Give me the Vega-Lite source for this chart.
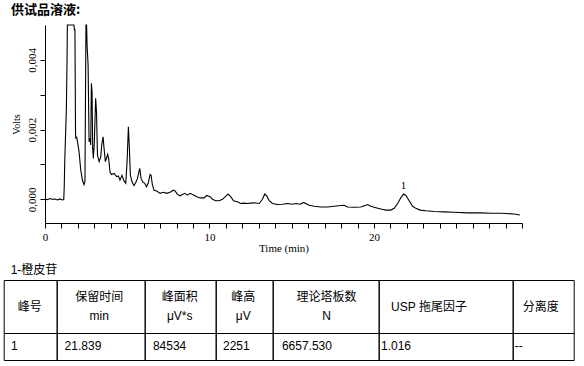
{
  "$schema": "https://vega.github.io/schema/vega-lite/v6.json",
  "background": "white",
  "padding": {"left": 3, "top": 3, "right": 5, "bottom": 3},
  "bounds": "flush",
  "spacing": 35,
  "config": {"view": {"stroke": null}},
  "datasets": {
    "trace": [
      {"t": 0.00, "v": 0.00001}, {"t": 0.15, "v": -0.00001}, {"t": 0.30, "v": 0.00002}, {"t": 0.45, "v": 0.00000},
      {"t": 0.60, "v": 0.00001}, {"t": 0.75, "v": -0.00002}, {"t": 0.90, "v": 0.00001}, {"t": 1.05, "v": -0.00002},
      {"t": 1.14, "v": -0.00001}, {"t": 1.17, "v": 0.00035}, {"t": 1.20, "v": 0.00109}, {"t": 1.26, "v": 0.00200},
      {"t": 1.30, "v": 0.00262}, {"t": 1.34, "v": 0.00400}, {"t": 1.36, "v": 0.00500}, {"t": 1.76, "v": 0.00500},
      {"t": 1.79, "v": 0.00486}, {"t": 1.82, "v": 0.00486}, {"t": 1.855, "v": 0.00196}, {"t": 1.87, "v": 0.00176},
      {"t": 1.93, "v": 0.00178}, {"t": 1.97, "v": 0.00166}, {"t": 2.07, "v": 0.00137}, {"t": 2.17, "v": 0.00085},
      {"t": 2.27, "v": 0.00056}, {"t": 2.37, "v": 0.00042}, {"t": 2.43, "v": 0.00051}, {"t": 2.49, "v": 0.00500},
      {"t": 2.53, "v": 0.00500}, {"t": 2.56, "v": 0.00440}, {"t": 2.62, "v": 0.00385}, {"t": 2.68, "v": 0.00165},
      {"t": 2.74, "v": 0.00175}, {"t": 2.78, "v": 0.00156}, {"t": 2.82, "v": 0.00333}, {"t": 2.86, "v": 0.00308},
      {"t": 2.90, "v": 0.00146}, {"t": 2.94, "v": 0.00117}, {"t": 3.00, "v": 0.00165}, {"t": 3.08, "v": 0.00290},
      {"t": 3.13, "v": 0.00251}, {"t": 3.19, "v": 0.00127}, {"t": 3.29, "v": 0.00108}, {"t": 3.39, "v": 0.00122},
      {"t": 3.45, "v": 0.00156}, {"t": 3.53, "v": 0.00179}, {"t": 3.59, "v": 0.00146}, {"t": 3.67, "v": 0.00108},
      {"t": 3.73, "v": 0.00117}, {"t": 3.81, "v": 0.00129}, {"t": 3.87, "v": 0.00117}, {"t": 3.95, "v": 0.00079},
      {"t": 4.04, "v": 0.00071}, {"t": 4.20, "v": 0.00074}, {"t": 4.36, "v": 0.00065}, {"t": 4.46, "v": 0.00067},
      {"t": 4.56, "v": 0.00055}, {"t": 4.68, "v": 0.00069}, {"t": 4.81, "v": 0.00052}, {"t": 4.91, "v": 0.00046},
      {"t": 4.99, "v": 0.00108}, {"t": 5.07, "v": 0.00208}, {"t": 5.13, "v": 0.00146}, {"t": 5.19, "v": 0.00069},
      {"t": 5.29, "v": 0.00050}, {"t": 5.41, "v": 0.00039}, {"t": 5.54, "v": 0.00050}, {"t": 5.62, "v": 0.00060},
      {"t": 5.76, "v": 0.00089}, {"t": 5.84, "v": 0.00060}, {"t": 5.94, "v": 0.00050}, {"t": 6.06, "v": 0.00046},
      {"t": 6.17, "v": 0.00036}, {"t": 6.27, "v": 0.00046}, {"t": 6.39, "v": 0.00071}, {"t": 6.45, "v": 0.00069},
      {"t": 6.53, "v": 0.00041}, {"t": 6.63, "v": 0.00026}, {"t": 6.79, "v": 0.00024}, {"t": 7.00, "v": 0.00017},
      {"t": 7.20, "v": 0.00020}, {"t": 7.40, "v": 0.00017}, {"t": 7.60, "v": 0.00020}, {"t": 7.81, "v": 0.00026},
      {"t": 7.91, "v": 0.00024}, {"t": 8.05, "v": 0.00014}, {"t": 8.21, "v": 0.00010}, {"t": 8.36, "v": 0.00014},
      {"t": 8.50, "v": 0.00017}, {"t": 8.66, "v": 0.00012}, {"t": 8.82, "v": 0.00017}, {"t": 9.03, "v": 0.00012},
      {"t": 9.23, "v": 0.00007}, {"t": 9.43, "v": 0.00004}, {"t": 9.67, "v": 0.00004}, {"t": 9.84, "v": 0.00011},
      {"t": 9.95, "v": 0.00009}, {"t": 10.08, "v": 0.00006}, {"t": 10.18, "v": 0.00000}, {"t": 10.38, "v": -0.00004},
      {"t": 10.58, "v": -0.00004}, {"t": 10.79, "v": 0.00000}, {"t": 10.95, "v": 0.00007}, {"t": 11.13, "v": 0.00015},
      {"t": 11.30, "v": 0.00007}, {"t": 11.46, "v": -0.00004}, {"t": 11.70, "v": -0.00007}, {"t": 11.90, "v": -0.00012},
      {"t": 12.10, "v": -0.00011}, {"t": 12.31, "v": -0.00012}, {"t": 12.51, "v": -0.00011}, {"t": 12.71, "v": -0.00010},
      {"t": 13.02, "v": -0.00012}, {"t": 13.22, "v": 0.00000}, {"t": 13.36, "v": 0.00015}, {"t": 13.49, "v": 0.00009},
      {"t": 13.63, "v": -0.00004}, {"t": 13.83, "v": -0.00012}, {"t": 14.14, "v": -0.00015}, {"t": 14.44, "v": -0.00014},
      {"t": 14.74, "v": -0.00012}, {"t": 15.05, "v": -0.00014}, {"t": 15.25, "v": -0.00012}, {"t": 15.51, "v": -0.00014},
      {"t": 15.72, "v": -0.00009}, {"t": 16.06, "v": -0.00017}, {"t": 16.36, "v": -0.00020}, {"t": 16.77, "v": -0.00022},
      {"t": 17.18, "v": -0.00022}, {"t": 17.58, "v": -0.00020}, {"t": 17.99, "v": -0.00018}, {"t": 18.19, "v": -0.00017},
      {"t": 18.39, "v": -0.00022}, {"t": 18.80, "v": -0.00023}, {"t": 19.20, "v": -0.00022}, {"t": 19.51, "v": -0.00017},
      {"t": 19.61, "v": -0.00015}, {"t": 19.81, "v": -0.00020}, {"t": 20.12, "v": -0.00024}, {"t": 20.42, "v": -0.00028},
      {"t": 20.72, "v": -0.00031}, {"t": 21.02, "v": -0.00031}, {"t": 21.23, "v": -0.00026}, {"t": 21.44, "v": -0.00012},
      {"t": 21.64, "v": 0.00005}, {"t": 21.80, "v": 0.00015}, {"t": 21.94, "v": 0.00011}, {"t": 22.14, "v": -0.00004},
      {"t": 22.35, "v": -0.00020}, {"t": 22.55, "v": -0.00026}, {"t": 22.81, "v": -0.00031}, {"t": 23.16, "v": -0.00033},
      {"t": 23.66, "v": -0.00035}, {"t": 24.27, "v": -0.00036}, {"t": 24.88, "v": -0.00037}, {"t": 25.69, "v": -0.00039},
      {"t": 26.50, "v": -0.00039}, {"t": 27.11, "v": -0.00040}, {"t": 27.72, "v": -0.00040}, {"t": 28.53, "v": -0.00042},
      {"t": 28.87, "v": -0.00045}
    ],
    "peaks": [{"t": 21.80, "v": 0.00015, "label": "1"}],
    "cols": [
      {"x0": 3.5, "x1": 56.5, "hx": 29, "h": "峰号", "vx": 10.4, "val": "1"},
      {"x0": 56.5, "x1": 144.5, "hx": 98.5, "h": "保留时间\nmin", "vx": 63.9, "val": "21.839"},
      {"x0": 144.5, "x1": 215.5, "hx": 179, "h": "峰面积\nμV*s", "vx": 152.2, "val": "84534"},
      {"x0": 215.5, "x1": 272.5, "hx": 242.5, "h": "峰高\nμV", "vx": 222.3, "val": "2251"},
      {"x0": 272.5, "x1": 378.5, "hx": 325.8, "h": "理论塔板数\nN", "vx": 281.2, "val": "6657.530"},
      {"x0": 378.5, "x1": 512.5, "hx": 428.3, "h": "USP 拖尾因子", "vx": 380.3, "val": "1.016"},
      {"x0": 512.5, "x1": 573.5, "hx": 540, "h": "分离度", "vx": 514, "val": "--"}
    ],
    "note": [{"text": "1-橙皮苷"}]
  },
  "vconcat": [
    {
      "width": 477,
      "height": 198,
      "title": {"text": "供试品溶液:", "anchor": "start", "frame": "group", "dx": -34, "offset": 6, "font": "Noto Sans CJK SC", "fontSize": 13, "fontWeight": "bold", "color": "black"},
      "resolve": {"axis": {"x": "independent"}},
      "layer": [
        {
          "data": {"name": "trace"},
          "mark": {"type": "line", "color": "black", "strokeWidth": 1.1},
          "encoding": {
            "x": {
              "field": "t", "type": "quantitative",
              "scale": {"domain": [0, 29], "nice": false, "zero": false},
              "axis": {
                "orient": "bottom",
                "values": [0, 10, 20],
                "format": "d",
                "title": "Time (min)", "titleFont": "Liberation Serif", "titleFontSize": 11, "titleFontWeight": "normal", "titleColor": "black", "titlePadding": 0,
                "labelFont": "Liberation Serif", "labelFontSize": 11, "labelColor": "black", "labelPadding": 3,
                "labelFlush": false, "labelOverlap": false,
                "tickColor": "black", "tickSize": 5, "tickWidth": 1, "domainColor": "black", "domainWidth": 1, "grid": false
              }
            },
            "y": {
              "field": "v", "type": "quantitative",
              "scale": {"domain": [-0.00068, 0.005], "nice": false, "zero": false},
              "axis": {
                "values": [0, 0.001, 0.002, 0.003, 0.004],
                "labelExpr": "round(datum.value * 1000) % 2 === 0 ? replace(format(datum.value, '.3f'), '.', ',') : ''",
                "labelAngle": 270, "labelAlign": "center", "labelBaseline": "bottom", "labelPadding": 3,
                "labelFont": "Liberation Serif", "labelFontSize": 11, "labelColor": "black",
                "labelFlush": false, "labelOverlap": false, "labelBound": false,
                "title": "Volts", "titleFont": "Liberation Serif", "titleFontSize": 10, "titleFontWeight": "normal", "titleColor": "black", "titlePadding": 5,
                "tickColor": "black", "tickSize": 5, "tickWidth": 1, "domainColor": "black", "domainWidth": 1, "grid": false
              }
            }
          }
        },
        {
          "data": {"name": "peaks"},
          "mark": {"type": "text", "font": "Liberation Serif", "fontSize": 11, "baseline": "alphabetic", "align": "center", "dy": -5, "color": "black"},
          "encoding": {
            "x": {
              "field": "t", "type": "quantitative",
              "axis": {
                "orient": "bottom",
                "values": [1,2,3,4,5,6,7,8,9,11,12,13,14,15,16,17,18,19,21,22,23,24,25,26,27,28,29],
                "labels": false, "domain": false, "title": null,
                "tickColor": "black", "tickSize": 5, "tickWidth": 1, "grid": false
              }
            },
            "y": {"field": "v", "type": "quantitative"},
            "text": {"field": "label"}
          }
        }
      ]
    },
    {
      "width": 477,
      "height": 104,
      "layer": [
        {
          "data": {"name": "cols"},
          "mark": {"type": "rect", "fillOpacity": 0, "stroke": "black", "strokeWidth": 1},
          "encoding": {
            "x": {"field": "x0", "type": "quantitative", "scale": {"domain": [44.3, 521.3], "nice": false, "zero": false}, "axis": null},
            "x2": {"field": "x1"},
            "y": {"datum": 280.5, "type": "quantitative", "scale": {"domain": [258, 362], "reverse": true, "nice": false, "zero": false}, "axis": null},
            "y2": {"datum": 333.5}
          }
        },
        {
          "data": {"name": "cols"},
          "mark": {"type": "rect", "fillOpacity": 0, "stroke": "black", "strokeWidth": 1},
          "encoding": {
            "x": {"field": "x0", "type": "quantitative", "scale": {"domain": [44.3, 521.3], "nice": false, "zero": false}, "axis": null},
            "x2": {"field": "x1"},
            "y": {"datum": 333.5, "type": "quantitative", "scale": {"domain": [258, 362], "reverse": true, "nice": false, "zero": false}, "axis": null},
            "y2": {"datum": 360.5}
          }
        },
        {
          "data": {"name": "cols"},
          "transform": [{"filter": "indexof(datum.h, '\\n') < 0"}],
          "mark": {"type": "text", "align": "center", "baseline": "middle", "font": "Liberation Sans, Noto Sans CJK SC", "fontSize": 12, "color": "black"},
          "encoding": {
            "x": {"field": "hx", "type": "quantitative", "scale": {"domain": [44.3, 521.3], "nice": false, "zero": false}, "axis": null},
            "y": {"datum": 307.2, "type": "quantitative", "scale": {"domain": [258, 362], "reverse": true, "nice": false, "zero": false}, "axis": null},
            "text": {"field": "h"}
          }
        },
        {
          "data": {"name": "cols"},
          "transform": [{"filter": "indexof(datum.h, '\\n') >= 0"}],
          "mark": {"type": "text", "align": "center", "baseline": "middle", "lineBreak": "\n", "lineHeight": 19, "font": "Liberation Sans, Noto Sans CJK SC", "fontSize": 12, "color": "black"},
          "encoding": {
            "x": {"field": "hx", "type": "quantitative", "scale": {"domain": [44.3, 521.3], "nice": false, "zero": false}, "axis": null},
            "y": {"datum": 297.4, "type": "quantitative", "scale": {"domain": [258, 362], "reverse": true, "nice": false, "zero": false}, "axis": null},
            "text": {"field": "h"}
          }
        },
        {
          "data": {"name": "cols"},
          "mark": {"type": "text", "align": "left", "baseline": "middle", "font": "Liberation Sans, Noto Sans CJK SC", "fontSize": 12, "color": "black"},
          "encoding": {
            "x": {"field": "vx", "type": "quantitative", "scale": {"domain": [44.3, 521.3], "nice": false, "zero": false}, "axis": null},
            "y": {"datum": 346.4, "type": "quantitative", "scale": {"domain": [258, 362], "reverse": true, "nice": false, "zero": false}, "axis": null},
            "text": {"field": "val"}
          }
        },
        {
          "data": {"name": "note"},
          "mark": {"type": "text", "align": "left", "baseline": "middle", "font": "Liberation Sans, Noto Sans CJK SC", "fontSize": 12, "color": "black"},
          "encoding": {
            "x": {"datum": 10, "type": "quantitative", "scale": {"domain": [44.3, 521.3], "nice": false, "zero": false}, "axis": null},
            "y": {"datum": 269.5, "type": "quantitative", "scale": {"domain": [258, 362], "reverse": true, "nice": false, "zero": false}, "axis": null},
            "text": {"field": "text"}
          }
        }
      ]
    }
  ]
}
